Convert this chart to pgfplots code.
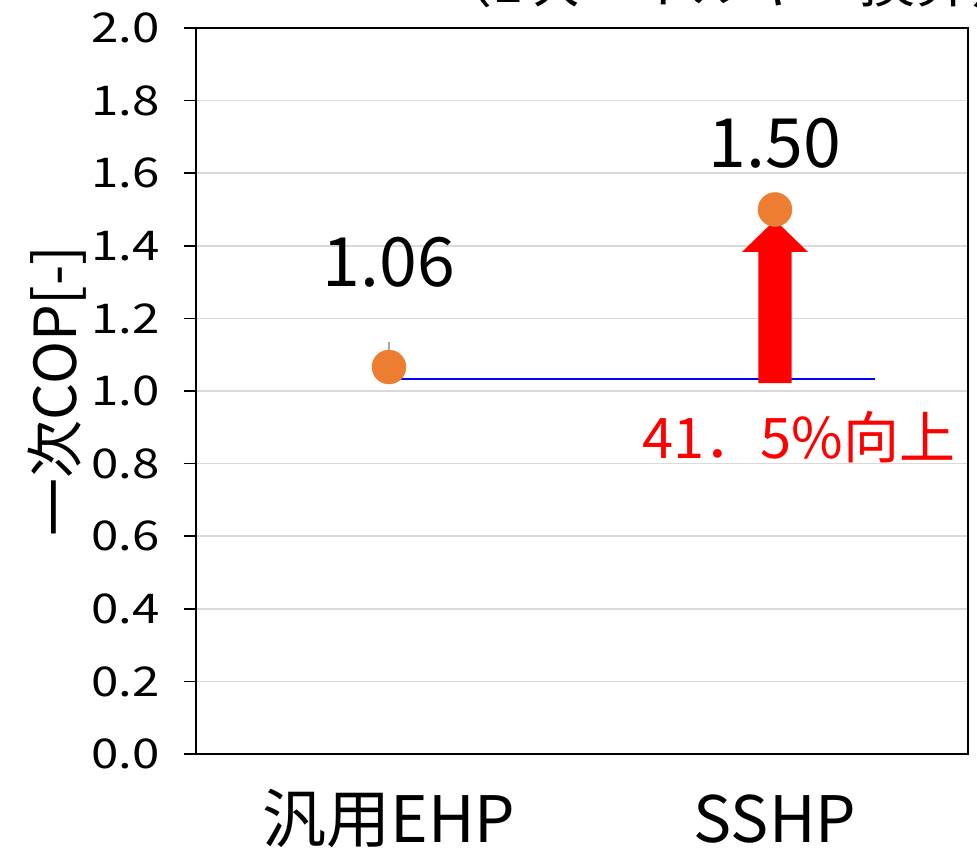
\documentclass[border=0pt]{standalone}
\usepackage{fontspec}
\setmainfont{Noto Sans CJK JP}
\newfontfamily\tickfont[FakeStretch=1.2]{Noto Sans CJK JP}
\usepackage{pgfplots}
\pgfplotsset{compat=1.18}
\definecolor{ptorange}{HTML}{ED7D31}
\definecolor{gridgray}{HTML}{D9D9D9}
\begin{document}
\begin{tikzpicture}
\begin{axis}[
  at={(0,0)}, anchor=south west,
  scale only axis, width=772pt, height=726pt,
  xmin=-0.5, xmax=1.5, ymin=0, ymax=2.0,
  xtick={0,1}, xticklabels={汎用EHP,SSHP},
  ytick={0,0.2,...,2.0},
  ytick pos=left,
  /pgf/number format/.cd, fixed, fixed zerofill, precision=1, assume math mode=true,
  /pgfplots/.cd,
  ymajorgrids, grid style={gridgray, line width=1.5pt},
  axis line style={black, line width=1.8pt},
  tick align=outside, major tick length=12pt,
  tick style={black, line width=1.6pt},
  x tick style={draw=none},
  yticklabel style={font=\tickfont\fontsize{41}{48}\selectfont, inner sep=0pt, xshift=-24pt},
  xticklabel style={font=\fontsize{64}{72}\selectfont, anchor=base, yshift=-76pt},
  ylabel={一次COP[-]},
  ylabel style={font=\fontsize{58}{66}\selectfont, at={(axis description cs:-0.18,0.5)}, anchor=center, rotate=0},
  clip=false,
]
\addplot[blue, line width=2pt] coordinates {(0.03,1.033) (1.26,1.033)};
\addplot[only marks, mark=*, mark size=17pt, color=ptorange, mark options={draw=ptorange, fill=ptorange}] coordinates {(0,1.066) (1,1.50)};
\addplot[gray!70, line width=1.5pt] coordinates {(0,1.066) (0,1.135)};
\fill[red] (axis cs:0.957,1.022) -- (axis cs:1.043,1.022) -- (axis cs:1.043,1.383) -- (axis cs:1.0855,1.383) -- (axis cs:1.0,1.471) -- (axis cs:0.9145,1.383) -- (axis cs:0.957,1.383) -- cycle;
\node[anchor=base, font=\fontsize{68}{76}\selectfont, inner sep=0pt] at (axis cs:0,1.287) {1.06};
\node[anchor=base, font=\fontsize{68}{76}\selectfont, inner sep=0pt] at (axis cs:1,1.617) {1.50};
\node[anchor=base, font=\fontsize{56}{64}\selectfont, text=red, inner sep=0pt] at (axis cs:1.062,0.815) {41．5\%向上};
\end{axis}
\node[anchor=base west, font=\fontsize{56}{64}\selectfont, inner sep=0pt] at (240pt,751pt) {（1次エネルギー換算）};
\pgfresetboundingbox
\useasboundingbox (-196pt,-100pt) rectangle (781pt,754pt);
\end{tikzpicture}
\end{document}
